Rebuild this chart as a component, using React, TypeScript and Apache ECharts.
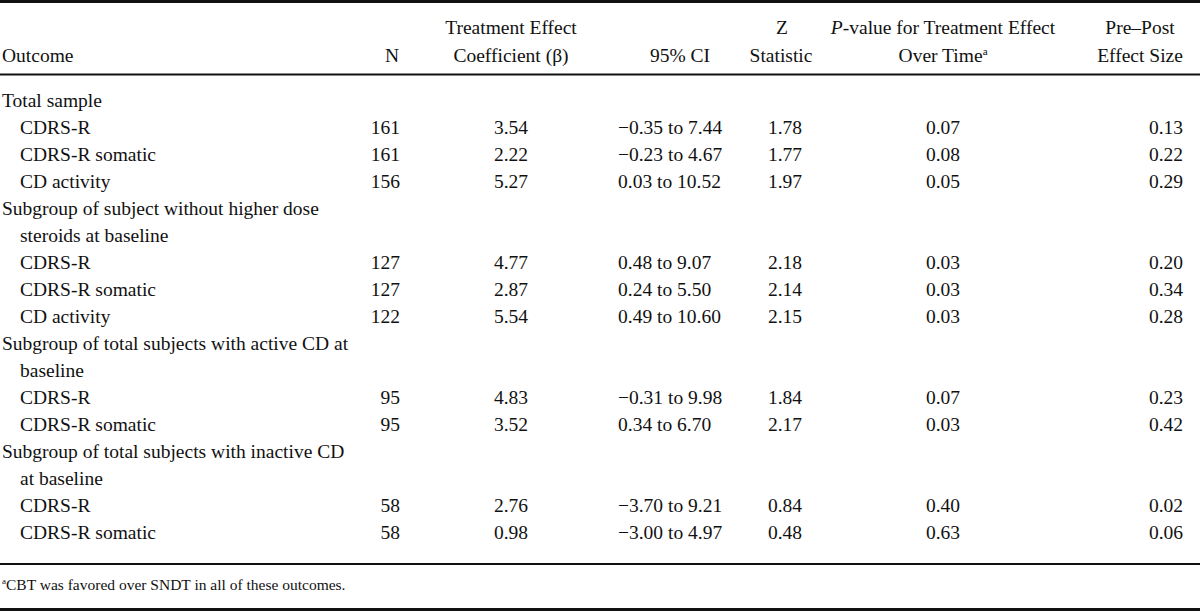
import React, { useEffect, useRef } from "react";
import * as echarts from "echarts";

// ---- Data ----
const groupLabels: string[][] = [
  ["Total sample"],
  ["Subgroup of subject without higher dose", "steroids at baseline"],
  ["Subgroup of total subjects with active CD at", "baseline"],
  ["Subgroup of total subjects with inactive CD", "at baseline"],
];
const outcomeGroup = [0, 0, 0, 1, 1, 1, 2, 2, 3, 3];
const outcomeNames = [
  "CDRS-R", "CDRS-R somatic", "CD activity",
  "CDRS-R", "CDRS-R somatic", "CD activity",
  "CDRS-R", "CDRS-R somatic",
  "CDRS-R", "CDRS-R somatic",
];
const nValues = [161, 161, 156, 127, 127, 122, 95, 95, 58, 58];
const betaValues = ["3.54", "2.22", "5.27", "4.77", "2.87", "5.54", "4.83", "3.52", "2.76", "0.98"];
const ciLow = ["−0.35", "−0.23", "0.03", "0.48", "0.24", "0.49", "−0.31", "0.34", "−3.70", "−3.00"];
const ciHigh = ["7.44", "4.67", "10.52", "9.07", "5.50", "10.60", "9.98", "6.70", "9.21", "4.97"];
const zValues = ["1.78", "1.77", "1.97", "2.18", "2.14", "2.15", "1.84", "2.17", "0.84", "0.48"];
const pValues = ["0.07", "0.08", "0.05", "0.03", "0.03", "0.03", "0.07", "0.03", "0.40", "0.63"];
const effectSizes = ["0.13", "0.22", "0.29", "0.20", "0.34", "0.28", "0.23", "0.42", "0.02", "0.06"];
const footnote = "CBT was favored over SNDT in all of these outcomes.";

const FONT_FAMILY = '"Liberation Serif", "Times New Roman", serif';
const FS = 19.5;

export default function App() {
  const ref = useRef<HTMLDivElement>(null);
  useEffect(() => {
    document.body.style.margin = "0";
    const chart = echarts.init(ref.current!, null, { renderer: "svg" });
    const els: any[] = [];
    const font = `${FS}px ${FONT_FAMILY}`;
    const txt = (text: string, x: number, y: number, align: string = "left", extra: any = {}) => {
      els.push({
        type: "text",
        x,
        y,
        style: {
          text,
          font,
          fill: "#111",
          textAlign: align,
          textVerticalAlign: "middle",
          ...extra,
        },
      });
    };
    const hline = (y: number, w: number) => {
      els.push({
        type: "line",
        shape: { x1: 0, y1: y, x2: 1200, y2: y },
        style: { stroke: "#111", lineWidth: w },
      });
    };

    // columns
    const xLabel = 2, xIndent = 20, xN = 400, xBeta = 511, xCI = 618, xCIHead = 680,
      xZ = 785, xP = 943, xES = 1183, xESHead = 1140;
    const yH1 = 27, yH2 = 55;

    hline(1.5, 3);
    hline(74.5, 2);
    hline(564, 2);
    hline(609.5, 3);

    // header
    txt("Outcome", xLabel, yH2);
    txt("N", xN - 1, yH2, "right");
    txt("Treatment Effect", xBeta, yH1, "center");
    txt("Coefficient (β)", xBeta, yH2, "center");
    txt("95% CI", xCIHead, yH2, "center");
    txt("Z", xZ - 3, yH1, "center");
    txt("Statistic", xZ - 4, yH2, "center");
    txt("{i|P}-value for Treatment Effect", xP, yH1, "center", {
      rich: { i: { font: `italic ${FS}px ${FONT_FAMILY}`, fill: "#111" } },
    });
    txt("Over Time{s|a}", xP, yH2, "center", {
      rich: { s: { font: `11px ${FONT_FAMILY}`, fill: "#111", verticalAlign: "top", padding: [0, 0, 9, 0] } },
    });
    txt("Pre–Post", xESHead, yH1, "center");
    txt("Effect Size", xESHead, yH2, "center");

    // body
    const y0 = 100, dy = 27;
    let line = 0;
    let lastGroup = -1;
    outcomeNames.forEach((name, i) => {
      const g = outcomeGroup[i];
      if (g !== lastGroup) {
        groupLabels[g].forEach((l, k) => {
          txt(l, k === 0 ? xLabel : xIndent, y0 + line * dy);
          line++;
        });
        lastGroup = g;
      }
      const y = y0 + line * dy;
      txt(name, xIndent, y);
      txt(String(nValues[i]), xN, y, "right");
      txt(betaValues[i], xBeta, y, "center");
      txt(`${ciLow[i]} to ${ciHigh[i]}`, xCI, y);
      txt(zValues[i], xZ, y, "center");
      txt(pValues[i], xP, y, "center");
      txt(effectSizes[i], xES, y, "right");
      line++;
    });

    // footnote
    txt("{s|a}" + footnote, 2, 584, "left", {
      font: `15.5px ${FONT_FAMILY}`,
      rich: { s: { font: `9px ${FONT_FAMILY}`, fill: "#111", verticalAlign: "top", padding: [0, 0, 7, 0] } },
    });

    chart.setOption({ animation: false, graphic: { elements: els } });
    return () => chart.dispose();
  }, []);
  return (
    <div
      ref={ref}
      style={{ position: "fixed", left: 0, top: 0, width: 1200, height: 612, background: "#fff" }}
    />
  );
}
